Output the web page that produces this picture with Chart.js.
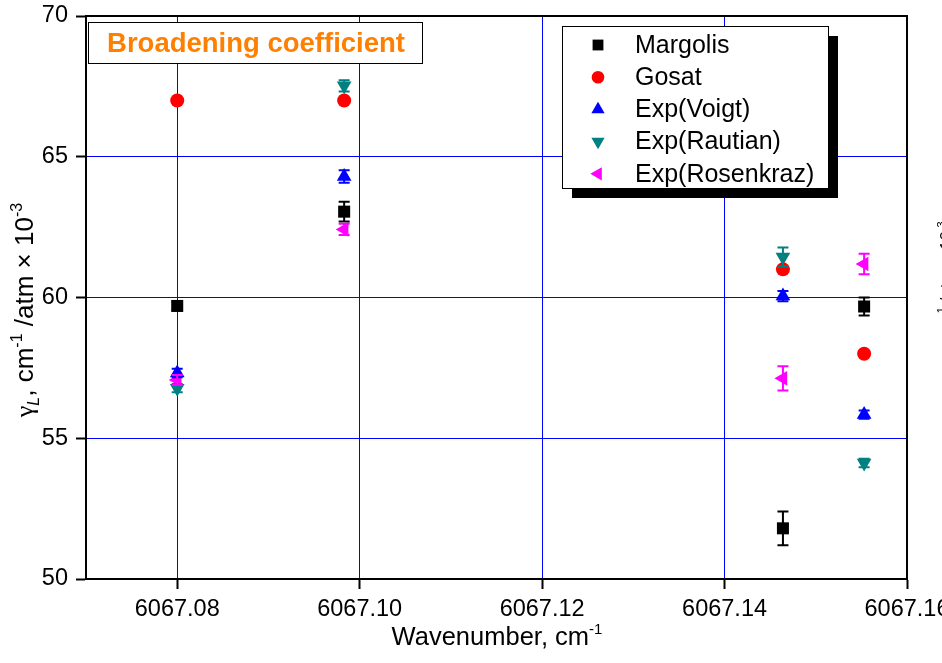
<!DOCTYPE html>
<html>
<head>
<meta charset="utf-8">
<script src="https://cdn.jsdelivr.net/npm/chart.js@4.4.1/dist/chart.umd.min.js"></script>
<style>
  html, body { margin: 0; padding: 0; background: #ffffff; overflow: hidden; }
  canvas { display: block; }
</style>
</head>
<body>
<canvas id="chart" width="942" height="663"></canvas>
<script>
// Line positions (cm-1) and Lorentz broadening coefficients (cm-1/atm x 10^-3)
const wavenumbers = [6067.0800, 6067.0983, 6067.1464, 6067.1553];
const margolis     = [59.70, 63.05, 51.80, 59.68];
const margolisErr  = [0.15, 0.35, 0.60, 0.32];
const gosat        = [67.00, 67.00, 61.00, 58.00];
const voigt        = [57.32, 64.30, 60.05, 55.84];
const voigtErr     = [0.15, 0.22, 0.18, 0.15];
const rautian      = [56.78, 67.52, 61.44, 54.12];
const rautianErr   = [0.15, 0.20, 0.34, 0.15];
const rosenkraz    = [57.07, 62.42, 57.13, 61.19];
const rosenkrazErr = [0.18, 0.20, 0.43, 0.36];
const xTicks = [6067.08, 6067.10, 6067.12, 6067.14, 6067.16];
const yTicks = [50, 55, 60, 65, 70];

const FONT = '"Liberation Sans", Arial, Helvetica, sans-serif';

function points(values) {
  return wavenumbers.map((x, i) => ({ x: x, y: values[i] }));
}

function series(label, values, errors, color, style, radius, rotation) {
  return {
    label: label,
    data: points(values),
    errors: errors,
    pointStyle: style,
    pointRadius: radius,
    pointHoverRadius: radius,
    pointRotation: rotation,
    pointBackgroundColor: color,
    pointBorderColor: color,
    pointBorderWidth: 0,
    backgroundColor: color,
    borderColor: color,
    showLine: false
  };
}

const datasets = [
  series('Margolis', margolis, margolisErr, '#000000', 'rect', 8.5, 0),
  series('Gosat', gosat, null, '#ff0000', 'circle', 7, 0),
  series('Exp(Voigt)', voigt, voigtErr, '#0000ff', 'triangle', 8.5, 0),
  series('Exp(Rautian)', rautian, rautianErr, '#008080', 'triangle', 8.5, 180),
  series('Exp(Rosenkraz)', rosenkraz, rosenkrazErr, '#ff00ff', 'triangle', 8.5, -90)
];

// Draw a run of text pieces (normal / sub / superscript) centred on (cx, cy)
function drawRich(ctx, pieces, cx, cy, angle) {
  ctx.save();
  ctx.translate(cx, cy);
  ctx.rotate(angle);
  ctx.textBaseline = 'alphabetic';
  ctx.textAlign = 'left';
  let total = 0;
  pieces.forEach(p => { ctx.font = p.font; p.w = ctx.measureText(p.text).width; total += p.w; });
  let x = -total / 2;
  pieces.forEach(p => {
    ctx.font = p.font;
    ctx.fillStyle = '#000000';
    ctx.fillText(p.text, x, p.dy || 0);
    x += p.w;
  });
  ctx.restore();
}

function gammaTitle(size) {
  const small = Math.round(size * 0.62);
  return [
    { text: 'γ', font: size + 'px "Liberation Serif", "Times New Roman", serif' },
    { text: 'L', font: 'italic ' + small + 'px ' + FONT, dy: size * 0.22 },
    { text: ', cm', font: size + 'px ' + FONT },
    { text: '-1', font: small + 'px ' + FONT, dy: -size * 0.42 },
    { text: ' /atm × 10', font: size + 'px ' + FONT },
    { text: '-3', font: small + 'px ' + FONT, dy: -size * 0.42 }
  ];
}

// Frame, axis titles, caption box, legend and error bars
const decorations = {
  id: 'decorations',
  beforeDatasetsDraw(chart) {
    const { ctx, chartArea: a } = chart;
    ctx.save();
    ctx.strokeStyle = '#000000';
    ctx.lineWidth = 2;
    ctx.beginPath();
    ctx.moveTo(a.left, a.top);
    ctx.lineTo(a.right, a.top);
    ctx.lineTo(a.right, a.bottom);
    ctx.stroke();
    ctx.restore();
  },
  afterDatasetsDraw(chart) {
    const { ctx } = chart;
    const yScale = chart.scales.y;
    // error bars
    chart.data.datasets.forEach((ds, i) => {
      if (!ds.errors) return;
      const meta = chart.getDatasetMeta(i);
      ctx.save();
      ctx.strokeStyle = ds.pointBackgroundColor;
      ctx.lineWidth = 2;
      meta.data.forEach((el, j) => {
        const v = ds.data[j].y, e = ds.errors[j];
        const yt = yScale.getPixelForValue(v + e);
        const yb = yScale.getPixelForValue(v - e);
        const x = el.x;
        ctx.beginPath();
        ctx.moveTo(x, yt); ctx.lineTo(x, yb);
        ctx.moveTo(x - 5.5, yt); ctx.lineTo(x + 5.5, yt);
        ctx.moveTo(x - 5.5, yb); ctx.lineTo(x + 5.5, yb);
        ctx.stroke();
      });
      ctx.restore();
    });
  },
  afterDraw(chart) {
    const { ctx } = chart;

    // caption box
    ctx.save();
    ctx.fillStyle = '#ffffff';
    ctx.fillRect(88.5, 22.5, 334, 41);
    ctx.strokeStyle = '#000000';
    ctx.lineWidth = 1;
    ctx.strokeRect(88.5, 22.5, 334, 41);
    ctx.fillStyle = '#ff8000';
    ctx.font = 'bold 27.5px ' + FONT;
    ctx.textAlign = 'center';
    ctx.textBaseline = 'middle';
    ctx.fillText('Broadening coefficient', 256, 44);
    ctx.restore();

    // legend with drop shadow
    const lx = 562, ly = 26, lw = 266, lh = 162;
    ctx.save();
    ctx.fillStyle = '#000000';
    ctx.fillRect(lx + 10, ly + 10, lw, lh);
    ctx.fillStyle = '#ffffff';
    ctx.fillRect(lx, ly, lw, lh);
    ctx.strokeStyle = '#000000';
    ctx.lineWidth = 1;
    ctx.strokeRect(lx + 0.5, ly + 0.5, lw, lh);
    chart.data.datasets.forEach((ds, i) => {
      const y = 45 + i * 32.2;
      ctx.fillStyle = ds.pointBackgroundColor;
      ctx.strokeStyle = ds.pointBackgroundColor;
      Chart.helpers.drawPoint(ctx, {
        pointStyle: ds.pointStyle,
        radius: ds.pointRadius * 0.9,
        rotation: ds.pointRotation,
        borderWidth: 0
      }, 598, y);
      ctx.fillStyle = '#000000';
      ctx.font = '25px ' + FONT;
      ctx.textAlign = 'left';
      ctx.textBaseline = 'middle';
      ctx.fillText(ds.label, 635, y + 1);
    });
    ctx.restore();

    // axis titles
    drawRich(ctx, gammaTitle(26), 33, 310, -Math.PI / 2);
    drawRich(ctx, gammaTitle(17), 952, 292, -Math.PI / 2);
    drawRich(ctx, [
      { text: 'Wavenumber, cm', font: '25.5px ' + FONT },
      { text: '-1', font: '15px ' + FONT, dy: -11 }
    ], 497, 645, 0);
  }
};

new Chart(document.getElementById('chart'), {
  type: 'scatter',
  data: { datasets: datasets },
  options: {
    responsive: false,
    animation: false,
    devicePixelRatio: 1,
    events: [],
    layout: { padding: { top: 16, right: 35, left: 0, bottom: 0 } },
    plugins: {
      legend: { display: false },
      tooltip: { enabled: false },
      title: { display: false }
    },
    scales: {
      x: {
        type: 'linear',
        min: 6067.07,
        max: 6067.16,
        afterBuildTicks(scale) { scale.ticks = xTicks.map(v => ({ value: v })); },
        afterFit(scale) { scale.height = 84; scale.paddingLeft = 0; scale.paddingRight = 0; },
        ticks: {
          color: '#000000',
          font: { family: FONT, size: 23.5 },
          padding: 6,
          maxRotation: 0,
          autoSkip: false,
          callback: v => Number(v).toFixed(2)
        },
        grid: {
          color: '#0000ff',
          lineWidth: 1,
          tickColor: '#000000',
          tickWidth: 2,
          tickLength: 10
        },
        border: { display: true, color: '#000000', width: 2 }
      },
      y: {
        type: 'linear',
        min: 50,
        max: 70,
        afterBuildTicks(scale) { scale.ticks = yTicks.map(v => ({ value: v })); },
        afterFit(scale) { scale.width = 86; scale.paddingTop = 0; scale.paddingBottom = 0; },
        ticks: {
          color: '#000000',
          font: { family: FONT, size: 23.5 },
          padding: 8,
          autoSkip: false,
          callback: v => String(v)
        },
        grid: {
          color: '#0000ff',
          lineWidth: 1,
          tickColor: '#000000',
          tickWidth: 2,
          tickLength: 10
        },
        border: { display: true, color: '#000000', width: 2 }
      }
    }
  },
  plugins: [decorations]
});
</script>
</body>
</html>
